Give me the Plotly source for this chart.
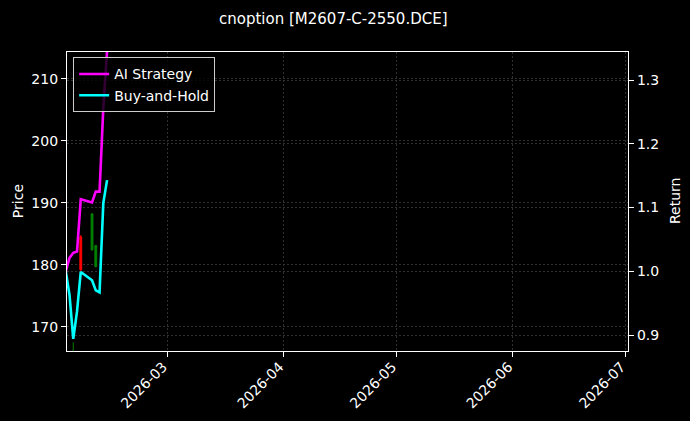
import plotly.graph_objects as go

# ---- data ----
line_dates = ["2026-02-02", "2026-02-03", "2026-02-04", "2026-02-05", "2026-02-06",
              "2026-02-09", "2026-02-10", "2026-02-11", "2026-02-12", "2026-02-13"]
ai_strategy = [1.000, 1.021, 1.029, 1.031, 1.113, 1.108, 1.125, 1.125, 1.256, 1.345]
buy_and_hold = [1.000, 0.963, 0.894, 0.937, 0.999, 0.986, 0.970, 0.967, 1.107, 1.143]

candle_dates = ["2026-02-04", "2026-02-06", "2026-02-09", "2026-02-10"]
c_open = [160.0, 184.5, 182.4, 179.7]
c_high = [167.5, 184.8, 188.3, 183.2]
c_low = [158.0, 178.8, 182.3, 179.6]
c_close = [166.0, 179.2, 188.2, 183.1]

x_ticks = ["2026-03-01", "2026-04-01", "2026-05-01", "2026-06-01", "2026-07-01"]
price_ticks = [170, 180, 190, 200, 210]
return_ticks = [0.9, 1.0, 1.1, 1.2, 1.3]

FONT = "DejaVu Sans"
fig = go.Figure()

fig.add_trace(go.Candlestick(
    x=candle_dates, open=c_open, high=c_high, low=c_low, close=c_close,
    increasing=dict(line=dict(color="#008000", width=1), fillcolor="#008000"),
    decreasing=dict(line=dict(color="#ff0000", width=1), fillcolor="#ff0000"),
    showlegend=False, hoverinfo="skip", yaxis="y"))

fig.add_trace(go.Scatter(x=line_dates, y=ai_strategy, mode="lines", name="AI Strategy",
                         line=dict(color="#ff00ff", width=2.6), yaxis="y2"))
fig.add_trace(go.Scatter(x=line_dates, y=buy_and_hold, mode="lines", name="Buy-and-Hold",
                         line=dict(color="#00ffff", width=2.6), yaxis="y2"))

grid = dict(showgrid=True, gridcolor="#303030", griddash="2px,2px", gridwidth=0.6)
axis_common = dict(showline=True, linecolor="white", linewidth=1.2,
                   ticks="outside", ticklen=5, tickcolor="white",
                   automargin=False, zeroline=False,
                   tickfont=dict(size=14, color="white"))
fig.update_layout(
    width=690, height=421,
    paper_bgcolor="black", plot_bgcolor="black",
    font=dict(family=FONT, color="white", size=14),
    margin=dict(l=67, r=62, t=52, b=70),
    title=dict(text="cnoption [M2607-C-2550.DCE]", x=0.483, xanchor="center",
               y=0.955, yanchor="middle", yref="container",
               font=dict(size=15, color="white")),
    xaxis=dict(type="date", range=["2026-02-02 08:00", "2026-07-01 17:00"],
               tickvals=x_ticks, tickformat="%Y-%m", tickangle=-45, mirror=True,
               ticklabelshift=-4, ticklabelstandoff=-4,
               rangeslider=dict(visible=False), **grid, **axis_common),
    yaxis=dict(range=[166.1, 214.3], tickvals=price_ticks, **grid, **axis_common),
    yaxis2=dict(range=[0.875, 1.344], tickvals=return_ticks, tickformat=".1f",
                overlaying="y", side="right", **grid, **axis_common),
    legend=dict(x=0.011, y=0.982, xanchor="left", yanchor="top",
                bgcolor="rgba(0,0,0,0.8)", bordercolor="#cccccc", borderwidth=1,
                font=dict(size=14, color="white"), itemwidth=30, tracegroupgap=0),
    showlegend=True,
    annotations=[
        dict(text="Price", xref="paper", yref="paper", x=-0.088, y=0.5,
             xanchor="center", yanchor="middle", textangle=-90, showarrow=False,
             font=dict(size=14, color="white")),
        dict(text="Return", xref="paper", yref="paper", x=1.083, y=0.5,
             xanchor="center", yanchor="middle", textangle=-90, showarrow=False,
             font=dict(size=14, color="white")),
    ],
)

fig.write_html("out.html", config={"displayModeBar": False},
               post_script="document.body.style.margin='0px';"
                           "document.body.style.overflow='hidden';")
